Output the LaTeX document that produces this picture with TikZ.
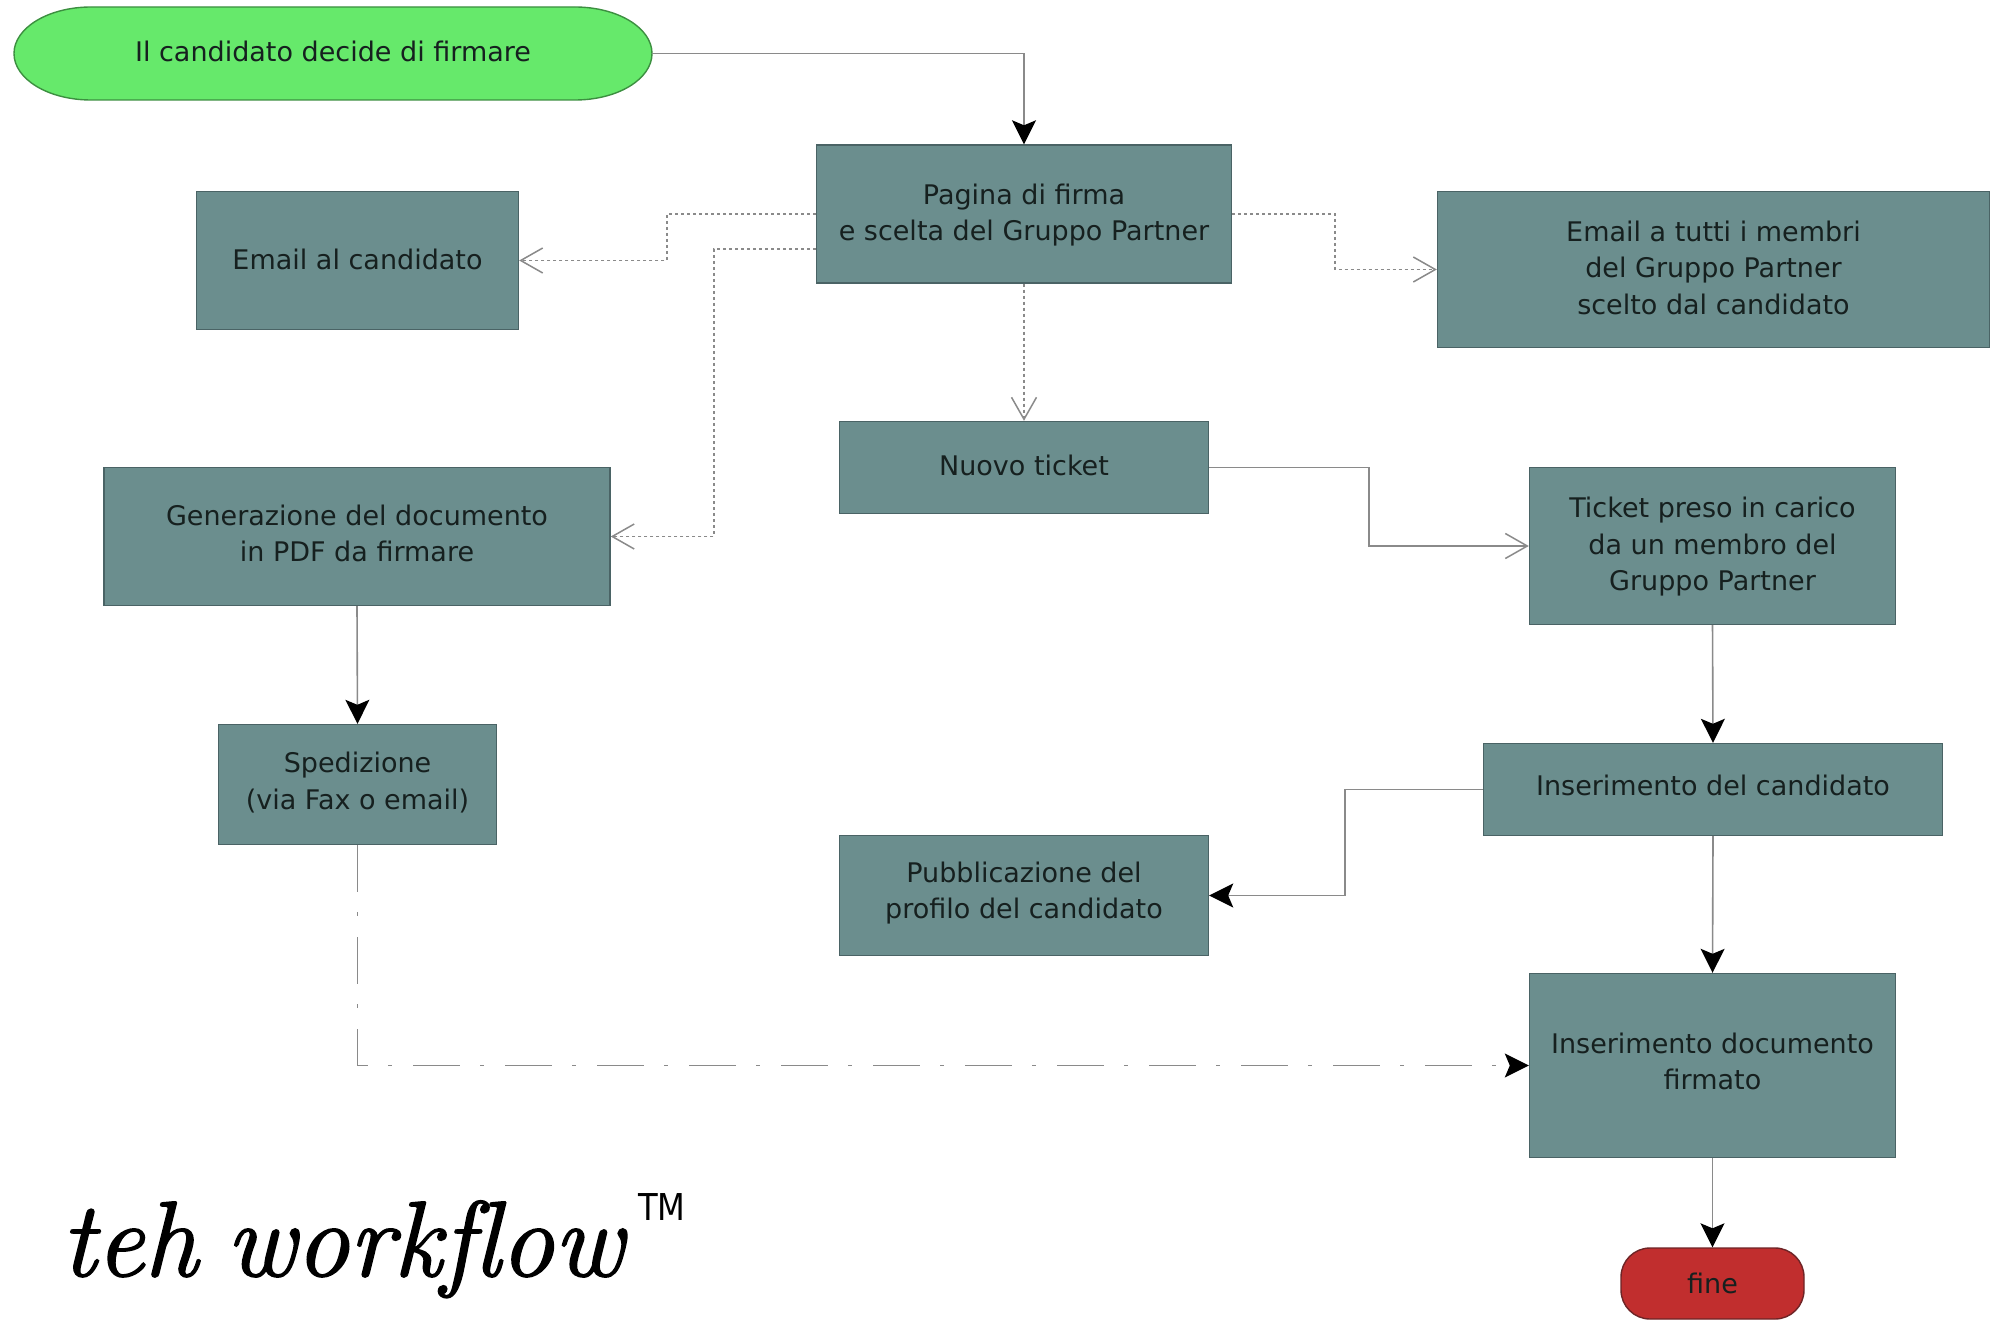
\documentclass[tikz,border=0pt]{standalone}
\usepackage{fontspec}
\setmainfont{DejaVu Sans}
\newfontfamily\titlefont[Ligatures=NoCommon,ItalicFeatures={FakeBold=1.5}]{Latin Modern Roman}
\usetikzlibrary{arrows.meta,calc}
\definecolor{boxfill}{HTML}{6B8E8E}
\definecolor{boxline}{HTML}{4A6365}
\definecolor{startfill}{HTML}{66E96B}
\definecolor{startline}{HTML}{3C8F40}
\definecolor{endfill}{HTML}{C12E2E}
\definecolor{endline}{HTML}{6E2426}
\definecolor{wire}{HTML}{8A8A8A}
\definecolor{ink}{HTML}{16201F}
% text block moved inside its node: #1 is twice the lift
\newcommand\liftbox[2]{\raisebox{0pt}[\dimexpr\height+0pt\relax][\dimexpr\depth+#1pt\relax]{\begin{tabular}{@{}c@{}}#2\end{tabular}}}
\tikzset{
  x=1pt,y=-1pt,
  lbl/.style={font=\fontsize{27}{36.5}\selectfont,text=ink,align=center,inner sep=0pt},
  boxnode/.style={lbl,rectangle,draw=boxline,fill=boxfill,line width=1.4pt},
  flow/.style={draw=wire,line width=1.6pt,-{Stealth[inset=5pt,length=24pt,width=24pt,color=black]}},
  openflow/.style={draw=wire,line width=1.6pt,-{Straight Barb[length=22pt,width=25pt,color=wire,line width=1.5pt]}},
  dotflow/.style={openflow,dash pattern=on 3pt off 3pt},
  dashdotflow/.style={flow,dash pattern=on 47pt off 20pt on 4pt off 21pt},
}
\begin{document}
\begin{tikzpicture}
\useasboundingbox (0,0) rectangle (1999,1321);
% start terminator
\draw[draw=startline,fill=startfill,line width=1.4pt] (91,7) -- (575,7)
  .. controls (617.5,7) and (652,27.8) .. (652,53.5)
  .. controls (652,79.2) and (617.5,100) .. (575,100)
  -- (91,100)
  .. controls (48.5,100) and (14,79.2) .. (14,53.5)
  .. controls (14,27.8) and (48.5,7) .. (91,7) -- cycle;
\node[lbl,minimum width=638pt,minimum height=93pt] (start) at (333,53.5) {\liftbox{-2}{Il candidato decide di firmare}};
\node[boxnode,minimum width=415pt,minimum height=138pt] (pagina) at (1024,214) {\liftbox{-2}{Pagina di firma\\e scelta del Gruppo Partner}};
\node[boxnode,minimum width=322pt,minimum height=138pt] (emailc) at (357.5,260.5) {\liftbox{-3}{Email al candidato}};
\node[boxnode,minimum width=552pt,minimum height=156pt] (tutti) at (1713.5,269.5) {\liftbox{-2}{Email a tutti i membri\\del Gruppo Partner\\scelto dal candidato}};
\node[boxnode,minimum width=369pt,minimum height=92pt] (nuovo) at (1024,467.5) {\liftbox{-1}{Nuovo ticket}};
\node[boxnode,minimum width=506pt,minimum height=138pt] (gen) at (357,536.5) {\liftbox{1}{Generazione del documento\\in PDF da firmare}};
\node[boxnode,minimum width=366pt,minimum height=157pt] (ticket) at (1712.5,546) {\liftbox{-2}{Ticket preso in carico\\da un membro del\\Gruppo Partner}};
\node[boxnode,minimum width=278pt,minimum height=120pt] (sped) at (357.5,784.5) {\liftbox{2}{Spedizione\\(via Fax o email)}};
\node[boxnode,minimum width=459pt,minimum height=92pt] (inscand) at (1713,789.5) {\liftbox{2}{Inserimento del candidato}};
\node[boxnode,minimum width=369pt,minimum height=120pt] (pub) at (1024,895.5) {\liftbox{5}{Pubblicazione del\\profilo del candidato}};
\node[boxnode,minimum width=366pt,minimum height=184pt] (insdoc) at (1712.5,1065.5) {\liftbox{3}{Inserimento documento\\firmato}};
\node[boxnode,fill=endfill,draw=endline,rounded corners=29pt,minimum width=183pt,minimum height=71pt] (fine) at (1712.5,1283.5) {fine};
% title
\node[anchor=base west,inner sep=0pt,font=\titlefont\itshape\fontsize{107}{107}\selectfont] (title) at (61,1276) {teh\hspace{-9pt} workflow};
\node[anchor=base west,inner sep=0pt,font=\fontsize{37}{37}\selectfont] (tm) at (638,1220) {\scalebox{0.87}[1]{TM}};
% connectors
\draw[flow] (start.east) -| (pagina.north);
\draw[dotflow] (pagina.west) -- ++(-149,0) |- (emailc.east);
\draw[dotflow] ([yshift=-35pt]pagina.west) -- ++(-102,0) |- (gen.east);
\draw[dotflow] (pagina.east) -- ++(103,0) |- (tutti.west);
\draw[dotflow] (pagina.south) -- (nuovo.north);
\draw[openflow] (nuovo.east) -- ++(160,0) |- (ticket.west);
\draw[flow] (gen.south) -- (sped.north);
\draw[flow] (ticket.south) -- (inscand.north);
\draw[flow] (inscand.west) -- ++(-138,0) |- (pub.east);
\draw[flow] (inscand.south) -- (insdoc.north);
\draw[flow] (insdoc.south) -- (fine.north);
\draw[dashdotflow] (sped.south) |- (insdoc.west);
\end{tikzpicture}
\end{document}
